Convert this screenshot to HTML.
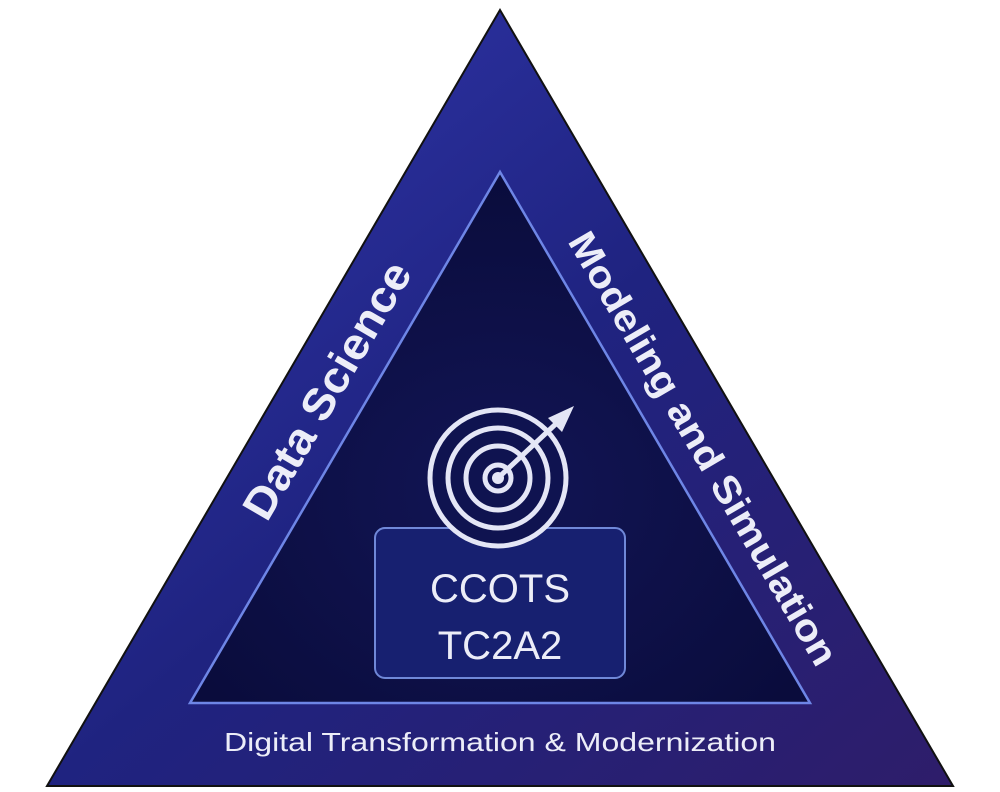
<!DOCTYPE html>
<html><head><style>body{margin:0;background:#fff}svg{display:block}</style></head><body>
<svg width="1000" height="792" viewBox="0 0 1000 792" xmlns="http://www.w3.org/2000/svg">
<defs>
<linearGradient id="og" x1="0" y1="0" x2="1" y2="1">
<stop offset="0" stop-color="#3238b0"/><stop offset="0.5" stop-color="#1f2380"/><stop offset="1" stop-color="#2e1d6a"/>
</linearGradient>
<radialGradient id="ig" cx="0.5" cy="0.6" r="0.6">
<stop offset="0" stop-color="#121555"/><stop offset="1" stop-color="#0a0c3c"/>
</radialGradient>
</defs>
<polygon points="500,10 953,786 47,786" fill="url(#og)" stroke="#111" stroke-width="2"/>
<polygon points="500,172 810,703 190,703" fill="url(#ig)" stroke="#6e86e6" stroke-width="2.5"/>
<rect x="375" y="528" width="250" height="150" rx="10" fill="#172070" stroke="#7088d8" stroke-width="2"/>
<g fill="none" stroke="#e4e6f6" stroke-width="5">
<circle cx="498" cy="478" r="68" fill="#0f1350"/>
<circle cx="498" cy="478" r="50"/>
<circle cx="498" cy="478" r="32"/>
<circle cx="498" cy="478" r="13"/>
</g>
<circle cx="498" cy="478" r="6" fill="#e4e6f6"/>
<line x1="498" y1="478" x2="560" y2="420" stroke="#e4e6f6" stroke-width="5"/>
<polygon points="574,406 548,418 562,432" fill="#e4e6f6"/>
<g fill="#ecedf8" font-family="Liberation Sans, sans-serif" text-anchor="middle">
<text x="500" y="602" font-size="40">CCOTS</text>
<text x="500" y="659" font-size="40">TC2A2</text>
<text transform="translate(340,398) rotate(-59.7)" font-size="44" font-weight="bold" textLength="290" lengthAdjust="spacingAndGlyphs">Data Science</text>
<text transform="translate(692,455) rotate(59.7)" font-size="38" font-weight="bold" textLength="495" lengthAdjust="spacingAndGlyphs">Modeling and Simulation</text>
<text x="500" y="751" font-size="26" textLength="552" lengthAdjust="spacingAndGlyphs">Digital Transformation &amp; Modernization</text>
</g>
</svg>
</body></html>
